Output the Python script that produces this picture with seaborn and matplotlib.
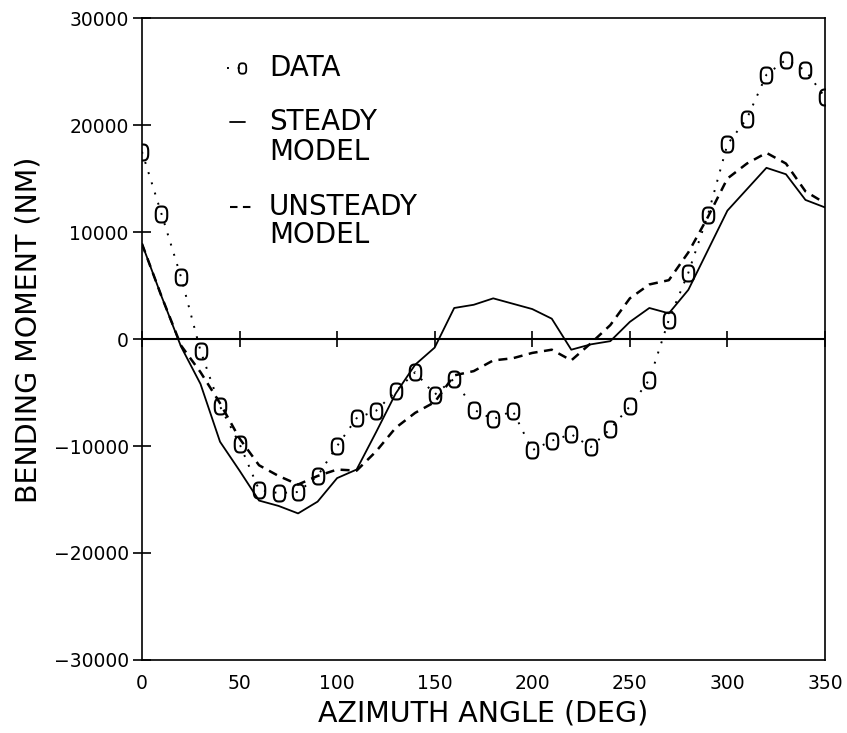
import numpy as np
import pandas as pd
import matplotlib
matplotlib.use("Agg")
import matplotlib.pyplot as plt
from matplotlib.path import Path
import seaborn as sns

# Blade bending moment versus azimuth angle
angles = list(range(0, 360, 10))

data_moment = [17500, 11700, 5800, -1100, -6300, -9800, -14100, -14400, -14300, -12800,
               -10000, -7400, -6700, -4900, -3100, -5200, -3700, -6600, -7500, -6700,
               -10400, -9500, -8900, -10100, -8400, -6300, -3800, 1800, 6200, 11600,
               18200, 20600, 24700, 26100, 25100, 22600]

steady_moment = [8900, 4000, -700, -4200, -9600, -12300, -15100, -15600, -16300, -15200,
                 -13000, -12200, -8700, -5100, -2400, -800, 2900, 3200, 3800, 3300,
                 2800, 1900, -1000, -500, -200, 1600, 2900, 2400, 4600, 8300,
                 12000, 14000, 16000, 15400, 13000, 12300]

unsteady_moment = [8900, 4000, -600, -3100, -6000, -9300, -11800, -12800, -13600, -12800,
                   -12200, -12300, -10500, -8300, -6900, -5900, -3400, -3000, -2000, -1800,
                   -1300, -1000, -2000, -400, 1300, 3800, 5100, 5500, 8100, 11400,
                   15000, 16400, 17400, 16400, 13800, 12700]

x_ticks = [0, 50, 100, 150, 200, 250, 300, 350]
y_ticks = [-30000, -20000, -10000, 0, 10000, 20000, 30000]

df = pd.DataFrame({"angle": angles, "data": data_moment,
                   "steady": steady_moment, "unsteady": unsteady_moment})

sns.set_theme(style="white")
plt.rcParams["font.family"] = ["DejaVu Sans"]

# Tall rounded "0"-shaped marker used for the measured points
t = np.linspace(0, 2 * np.pi, 60)
ct, st = np.cos(t), np.sin(t)
px = 0.72 * np.sign(ct) * np.abs(ct) ** (2 / 3.0)
py = 1.0 * np.sign(st) * np.abs(st) ** (2 / 3.0)
zero_marker = Path(np.column_stack([px, py]), closed=True)

fig = plt.figure(figsize=(8.47, 7.33), dpi=100)
ax = fig.add_axes([0.1676, 0.0996, 0.8064, 0.8758])

dotted = (0, (1, 4.5))
dashed = (0, (3.6, 2.6))

sns.lineplot(data=df, x="angle", y="steady", ax=ax, color="black",
             linewidth=1.3, linestyle="-")
sns.lineplot(data=df, x="angle", y="unsteady", ax=ax, color="black",
             linewidth=1.8, linestyle=dashed)
sns.lineplot(data=df, x="angle", y="data", ax=ax, color="black",
             linewidth=1.4, linestyle=dotted, marker=zero_marker,
             markersize=11.5, markerfacecolor="none",
             markeredgecolor="black", markeredgewidth=1.5)

# zero line with its angle ticks
ax.axhline(0, color="black", linewidth=1.5, zorder=1)
ax.plot(x_ticks, [0] * len(x_ticks), linestyle="none", marker="|",
        markersize=11.5, markeredgewidth=1.2, color="black", clip_on=False)

ax.set_xlim(0, 350)
ax.set_ylim(-30000, 30000)
ax.set_xticks(x_ticks)
ax.set_xticklabels([str(v) for v in x_ticks])
ax.set_yticks(y_ticks)
ax.set_yticklabels([str(v).replace("-", "\u2212") for v in y_ticks])
ax.tick_params(axis="x", length=0, pad=10, labelsize=13.5, colors="black")
ax.tick_params(axis="y", direction="inout", length=13, width=1.2, pad=3,
               labelsize=13.5, colors="black", left=True)

for sp in ax.spines.values():
    sp.set_color("black")
    sp.set_linewidth(1.2)

ax.set_xlabel("AZIMUTH ANGLE (DEG)", fontsize=20.5, labelpad=5, color="black")
ax.set_ylabel("BENDING MOMENT (NM)", fontsize=20.5, color="black")
ax.yaxis.set_label_coords(-0.145, 0.515)

# key
tr = ax.transAxes
ax.plot([0.124, 0.146], [0.922, 0.922], transform=tr, color="black",
        linewidth=1.4, linestyle=dotted, marker=zero_marker, markevery=[1],
        markersize=7.5, markerfacecolor="none", markeredgecolor="black",
        markeredgewidth=1.3)
ax.plot([0.129, 0.151], [0.838, 0.838], transform=tr, color="black", linewidth=1.3)
ax.plot([0.129, 0.160], [0.706, 0.706], transform=tr, color="black",
        linewidth=1.5, linestyle=dashed)
for txt, yy in [("DATA", 0.922), ("STEADY", 0.838), ("MODEL", 0.791),
                ("UNSTEADY", 0.706), ("MODEL", 0.662)]:
    ax.text(0.186, yy, txt, transform=tr, va="center", ha="left",
            fontsize=20, color="black")

fig.savefig("out.png", dpi=100, facecolor="white")
